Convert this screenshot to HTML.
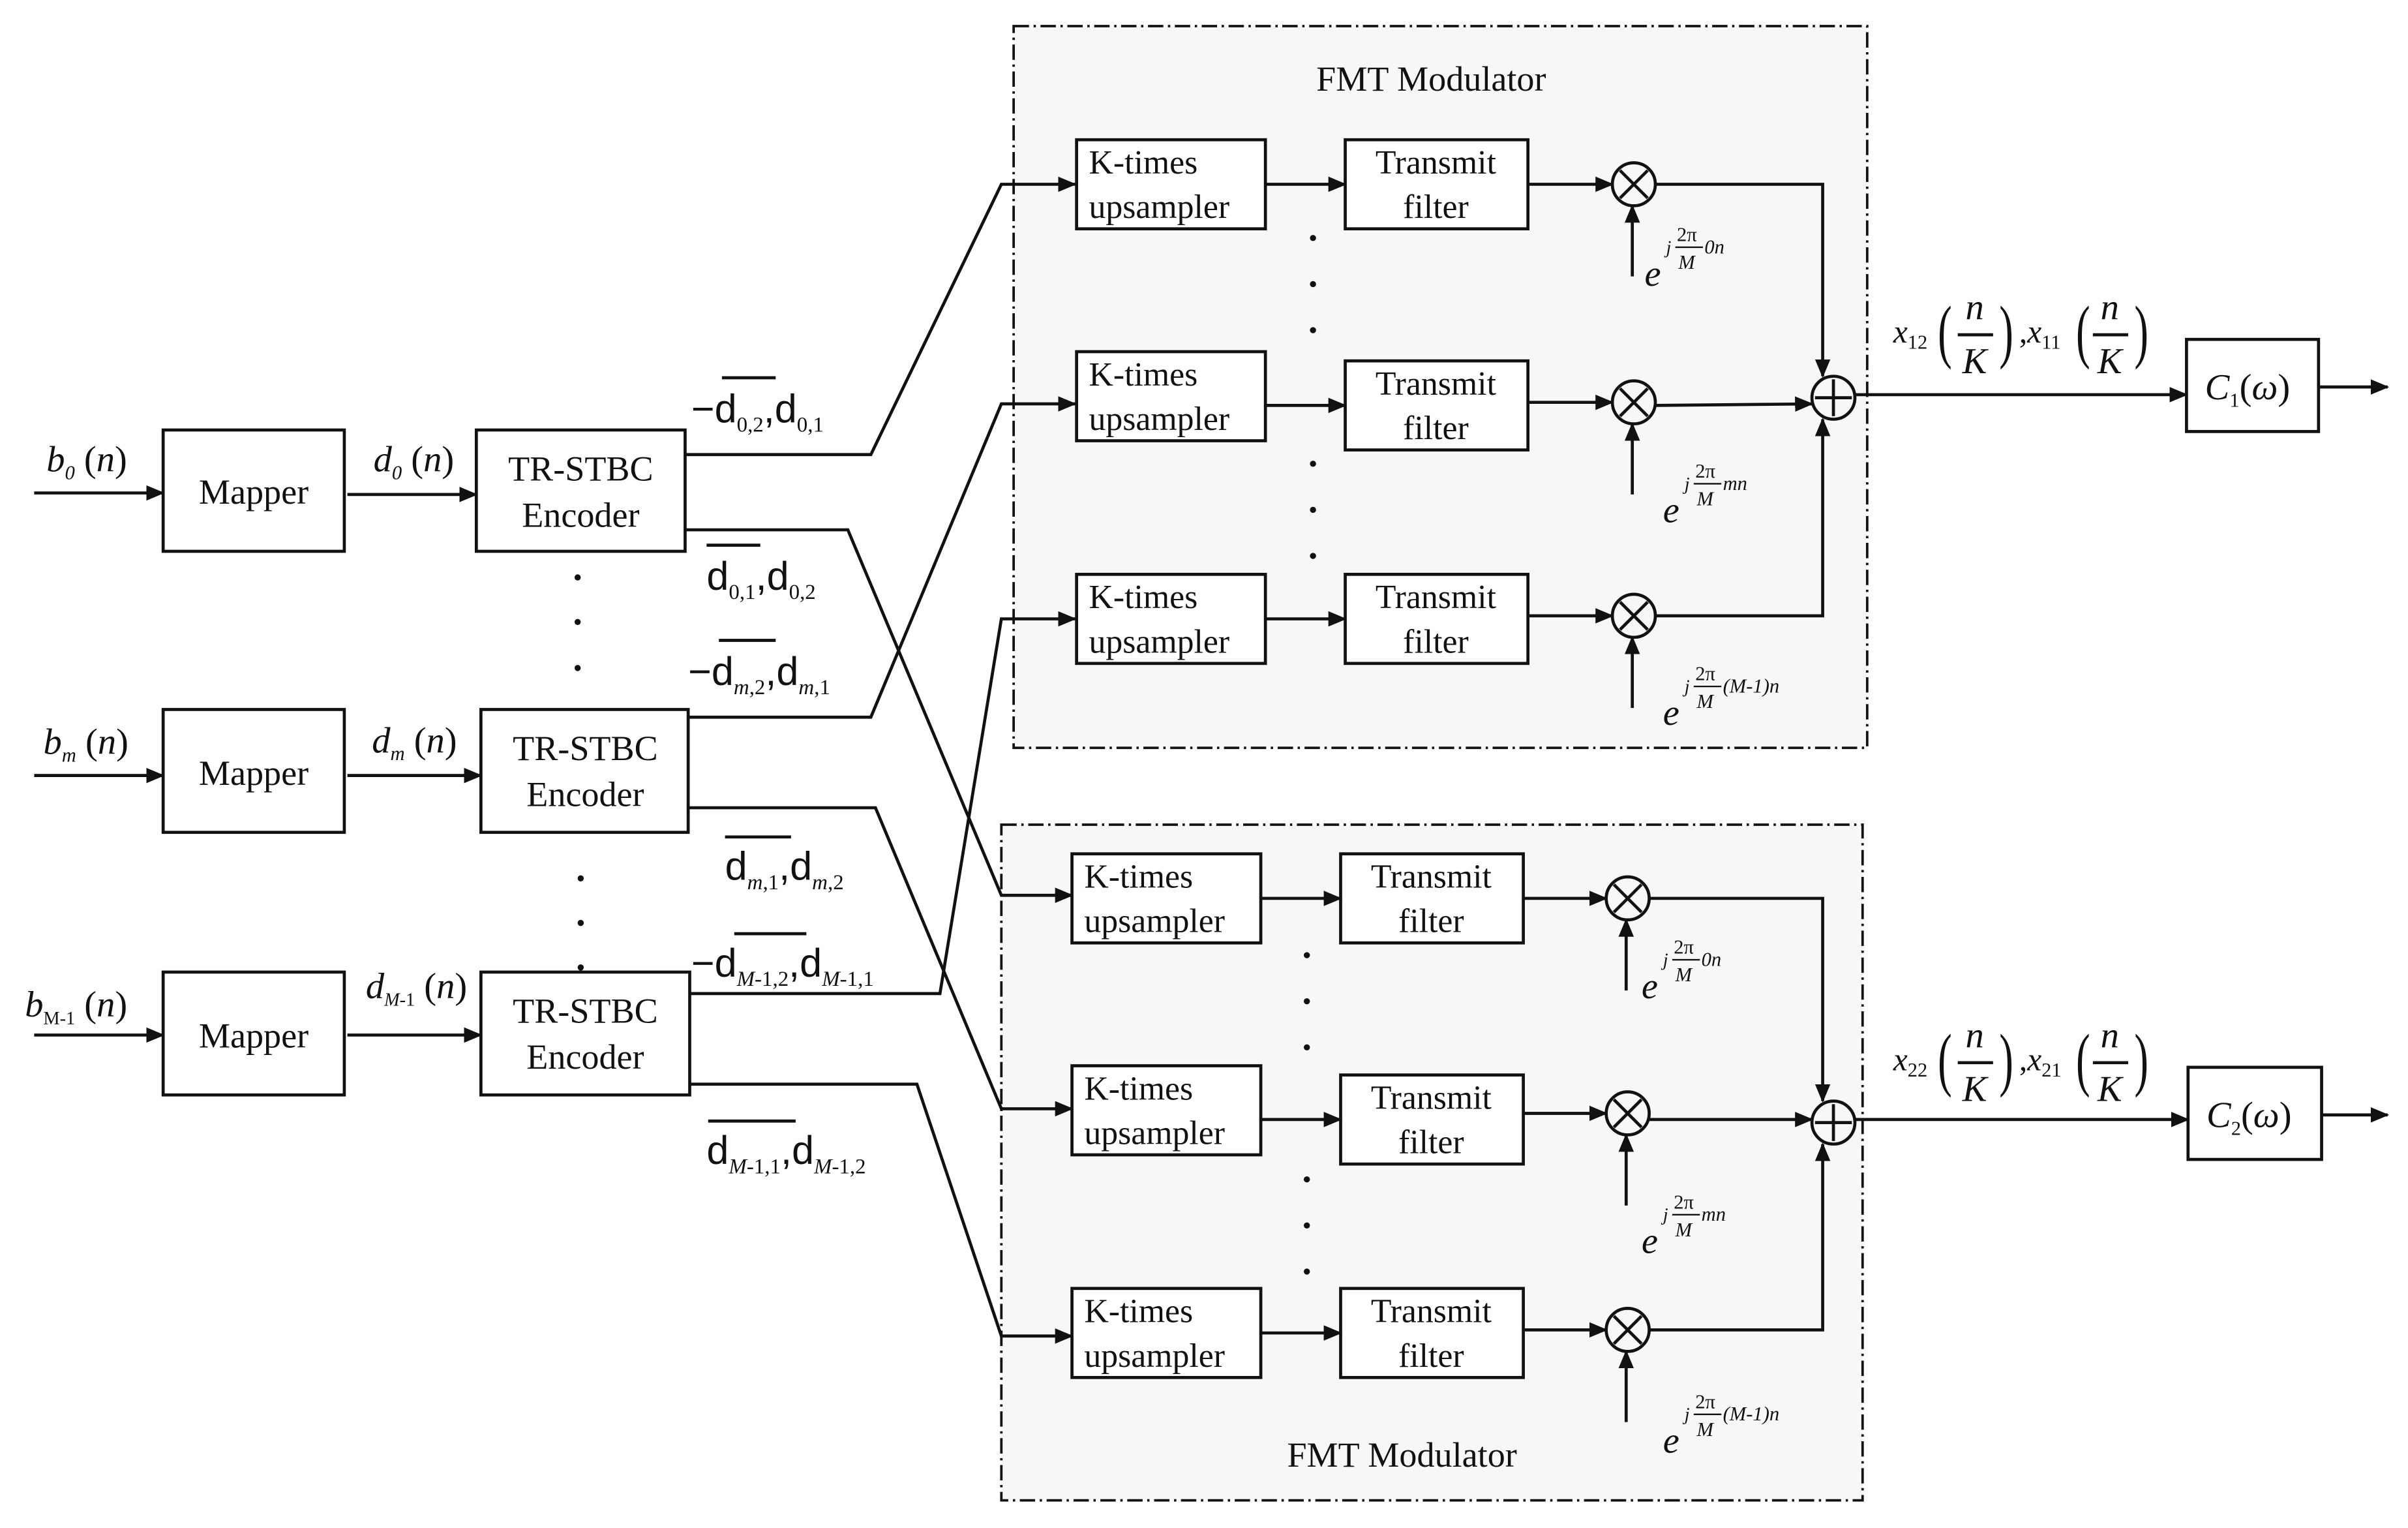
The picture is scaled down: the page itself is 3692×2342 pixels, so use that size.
<!DOCTYPE html>
<html><head><meta charset="utf-8"><style>
html,body{margin:0;padding:0;background:#fff}
svg{display:block}
text{font-family:"Liberation Serif",serif;fill:#111}
.it{font-style:italic}
</style></head><body>
<svg width="3692" height="2342" viewBox="0 0 1568 995" xmlns="http://www.w3.org/2000/svg">
<defs>
<marker id="a" markerWidth="12" markerHeight="10" refX="11" refY="5" orient="auto" markerUnits="userSpaceOnUse"><path d="M0,0 L12,5 L0,10 Z" fill="#111"/></marker>
</defs>
<g stroke="#111" stroke-width="2" fill="none">
<rect x="660" y="17" width="556" height="470" fill="#f7f7f7" stroke-width="1.6" stroke-dasharray="10,3,1.5,3"/>
<rect x="652" y="537" width="561" height="440" fill="#f7f7f7" stroke-width="1.6" stroke-dasharray="10,3,1.5,3"/>
<rect x="106" y="280" width="118" height="79" fill="#fff"/>
<rect x="106" y="462" width="118" height="80" fill="#fff"/>
<rect x="106" y="633" width="118" height="80" fill="#fff"/>
<rect x="310" y="280" width="136" height="79" fill="#fff"/>
<rect x="313" y="462" width="135" height="80" fill="#fff"/>
<rect x="313" y="633" width="136" height="80" fill="#fff"/>
<line x1="22" y1="321" x2="106" y2="321" marker-end="url(#a)"/>
<line x1="22" y1="505" x2="106" y2="505" marker-end="url(#a)"/>
<line x1="22" y1="674" x2="106" y2="674" marker-end="url(#a)"/>
<line x1="226" y1="322" x2="310" y2="322" marker-end="url(#a)"/>
<line x1="226" y1="505" x2="313" y2="505" marker-end="url(#a)"/>
<line x1="226" y1="674" x2="313" y2="674" marker-end="url(#a)"/>
<polyline points="446,296 567,296 652,120 700,120" marker-end="url(#a)"/>
<polyline points="446,345 552,345 652,583 698,583" marker-end="url(#a)"/>
<polyline points="448,467 567,467 652,263 700,263" marker-end="url(#a)"/>
<polyline points="448,526 570,526 652,722 698,722" marker-end="url(#a)"/>
<polyline points="449,647 612,647 652,403 700,403" marker-end="url(#a)"/>
<polyline points="449,706 597,706 652,870 698,870" marker-end="url(#a)"/>
<rect x="701" y="91" width="123" height="58" fill="#fff"/>
<rect x="701" y="229" width="123" height="58" fill="#fff"/>
<rect x="701" y="374" width="123" height="58" fill="#fff"/>
<rect x="876" y="91" width="119" height="58" fill="#fff"/>
<rect x="876" y="235" width="119" height="58" fill="#fff"/>
<rect x="876" y="374" width="119" height="58" fill="#fff"/>
<line x1="824" y1="120" x2="876" y2="120" marker-end="url(#a)"/>
<line x1="824" y1="264" x2="876" y2="264" marker-end="url(#a)"/>
<line x1="824" y1="403" x2="876" y2="403" marker-end="url(#a)"/>
<line x1="995" y1="120" x2="1050" y2="120" marker-end="url(#a)"/>
<line x1="995" y1="262" x2="1050" y2="262" marker-end="url(#a)"/>
<line x1="995" y1="401" x2="1050" y2="401" marker-end="url(#a)"/>
<circle cx="1064" cy="120" r="14"/><circle cx="1064" cy="262" r="14"/><circle cx="1064" cy="401" r="14"/>
<path d="M1055,111 L1073,129 M1073,111 L1055,129 M1055,253 L1073,271 M1073,253 L1055,271 M1055,392 L1073,410 M1073,392 L1055,410"/>
<line x1="1063" y1="180" x2="1063" y2="134" marker-end="url(#a)"/>
<line x1="1063" y1="322" x2="1063" y2="276" marker-end="url(#a)"/>
<line x1="1063" y1="461" x2="1063" y2="415" marker-end="url(#a)"/>
<polyline points="1078,120 1187,120 1187,245" marker-end="url(#a)"/>
<line x1="1078" y1="264" x2="1180" y2="263" marker-end="url(#a)"/>
<polyline points="1078,401 1187,401 1187,273" marker-end="url(#a)"/>
<circle cx="1194" cy="259" r="14"/>
<path d="M1182,259 L1206,259 M1194,247 L1194,271"/>
<line x1="1208" y1="257" x2="1424" y2="257" marker-end="url(#a)"/>
<rect x="1424" y="221" width="86" height="60" fill="#fff"/>
<line x1="1510" y1="252" x2="1555" y2="252" marker-end="url(#a)"/>
<rect x="698" y="556" width="123" height="58" fill="#fff"/>
<rect x="698" y="694" width="123" height="58" fill="#fff"/>
<rect x="698" y="839" width="123" height="58" fill="#fff"/>
<rect x="873" y="556" width="119" height="58" fill="#fff"/>
<rect x="873" y="700" width="119" height="58" fill="#fff"/>
<rect x="873" y="839" width="119" height="58" fill="#fff"/>
<line x1="821" y1="585" x2="873" y2="585" marker-end="url(#a)"/>
<line x1="821" y1="729" x2="873" y2="729" marker-end="url(#a)"/>
<line x1="821" y1="868" x2="873" y2="868" marker-end="url(#a)"/>
<line x1="992" y1="585" x2="1046" y2="585" marker-end="url(#a)"/>
<line x1="992" y1="725" x2="1046" y2="725" marker-end="url(#a)"/>
<line x1="992" y1="866" x2="1046" y2="866" marker-end="url(#a)"/>
<circle cx="1060" cy="585" r="14"/><circle cx="1060" cy="725" r="14"/><circle cx="1060" cy="866" r="14"/>
<path d="M1051,576 L1069,594 M1069,576 L1051,594 M1051,716 L1069,734 M1069,716 L1051,734 M1051,857 L1069,875 M1069,857 L1051,875"/>
<line x1="1059" y1="645" x2="1059" y2="599" marker-end="url(#a)"/>
<line x1="1059" y1="785" x2="1059" y2="739" marker-end="url(#a)"/>
<line x1="1059" y1="926" x2="1059" y2="880" marker-end="url(#a)"/>
<polyline points="1074,585 1187,585 1187,717" marker-end="url(#a)"/>
<line x1="1074" y1="729" x2="1180" y2="729" marker-end="url(#a)"/>
<polyline points="1074,866 1187,866 1187,745" marker-end="url(#a)"/>
<circle cx="1194" cy="731" r="14"/>
<path d="M1182,731 L1206,731 M1194,719 L1194,743"/>
<line x1="1208" y1="729" x2="1425" y2="729" marker-end="url(#a)"/>
<rect x="1425" y="695" width="87" height="60" fill="#fff"/>
<line x1="1512" y1="726" x2="1555" y2="726" marker-end="url(#a)"/>
<path d="M470,246 L505,246 M460,355 L495,355 M468,417 L505,417 M472,545 L515,545 M478,608 L525,608 M461,730 L518,730"/>
</g>
<g fill="#111">
<circle cx="376" cy="376" r="2"/><circle cx="376" cy="405" r="2"/><circle cx="376" cy="435" r="2"/>
<circle cx="378" cy="572" r="2"/><circle cx="378" cy="601" r="2"/><circle cx="378" cy="630" r="2"/>
<circle cx="855" cy="155" r="2"/><circle cx="855" cy="185" r="2"/><circle cx="855" cy="215" r="2"/>
<circle cx="855" cy="302" r="2"/><circle cx="855" cy="332" r="2"/><circle cx="855" cy="362" r="2"/>
<circle cx="851" cy="622" r="2"/><circle cx="851" cy="652" r="2"/><circle cx="851" cy="682" r="2"/>
<circle cx="851" cy="768" r="2"/><circle cx="851" cy="798" r="2"/><circle cx="851" cy="828" r="2"/>
</g>
<g font-size="23" text-anchor="middle">
<text x="165" y="328">Mapper</text><text x="165" y="511">Mapper</text><text x="165" y="682">Mapper</text>
<text x="378" y="313">TR-STBC</text><text x="378" y="343">Encoder</text>
<text x="381" y="495">TR-STBC</text><text x="381" y="525">Encoder</text>
<text x="381" y="666">TR-STBC</text><text x="381" y="696">Encoder</text>
<text x="932" y="59">FMT Modulator</text><text x="913" y="955">FMT Modulator</text>
</g>
<g font-size="22">
<text x="709" y="113">K-times</text><text x="709" y="142">upsampler</text>
<text x="709" y="251">K-times</text><text x="709" y="280">upsampler</text>
<text x="709" y="396">K-times</text><text x="709" y="425">upsampler</text>
<text x="706" y="578">K-times</text><text x="706" y="607">upsampler</text>
<text x="706" y="716">K-times</text><text x="706" y="745">upsampler</text>
<text x="706" y="861">K-times</text><text x="706" y="890">upsampler</text>
<text x="935" y="113" text-anchor="middle">Transmit</text><text x="935" y="142" text-anchor="middle">filter</text>
<text x="935" y="257" text-anchor="middle">Transmit</text><text x="935" y="286" text-anchor="middle">filter</text>
<text x="935" y="396" text-anchor="middle">Transmit</text><text x="935" y="425" text-anchor="middle">filter</text>
<text x="932" y="578" text-anchor="middle">Transmit</text><text x="932" y="607" text-anchor="middle">filter</text>
<text x="932" y="722" text-anchor="middle">Transmit</text><text x="932" y="751" text-anchor="middle">filter</text>
<text x="932" y="861" text-anchor="middle">Transmit</text><text x="932" y="890" text-anchor="middle">filter</text>
</g>
<g font-size="24">
<text x="30" y="307" class="it">b<tspan font-size="13" dy="5">0</tspan><tspan dy="-5" font-style="normal"> (</tspan>n<tspan font-style="normal">)</tspan></text>
<text x="28" y="491" class="it">b<tspan font-size="13" dy="5">m</tspan><tspan dy="-5" font-style="normal"> (</tspan>n<tspan font-style="normal">)</tspan></text>
<text x="16" y="662" class="it">b<tspan font-size="12" dy="5" font-style="normal">M-1</tspan><tspan dy="-5" font-style="normal"> (</tspan>n<tspan font-style="normal">)</tspan></text>
<text x="243" y="307" class="it">d<tspan font-size="13" dy="5">0</tspan><tspan dy="-5" font-style="normal"> (</tspan>n<tspan font-style="normal">)</tspan></text>
<text x="242" y="490" class="it">d<tspan font-size="13" dy="5">m</tspan><tspan dy="-5" font-style="normal"> (</tspan>n<tspan font-style="normal">)</tspan></text>
<text x="238" y="650" class="it">d<tspan font-size="12" dy="5">M</tspan><tspan font-size="12" font-style="normal">-1</tspan><tspan dy="-5" font-style="normal"> (</tspan>n<tspan font-style="normal">)</tspan></text>
</g>
<g font-size="26">
<text x="450" y="275" style="font-family:'Liberation Sans',sans-serif">−d<tspan font-size="14" dy="6" style="font-family:'Liberation Serif'">0,2</tspan><tspan dy="-6">,d</tspan><tspan font-size="14" dy="6" style="font-family:'Liberation Serif'">0,1</tspan></text>
<text x="460" y="384" style="font-family:'Liberation Sans',sans-serif">d<tspan font-size="14" dy="6" style="font-family:'Liberation Serif'">0,1</tspan><tspan dy="-6">,d</tspan><tspan font-size="14" dy="6" style="font-family:'Liberation Serif'">0,2</tspan></text>
<text x="448" y="446" style="font-family:'Liberation Sans',sans-serif">−d<tspan font-size="14" dy="6" style="font-family:'Liberation Serif';font-style:italic">m</tspan><tspan font-size="14" style="font-family:'Liberation Serif'">,2</tspan><tspan dy="-6">,d</tspan><tspan font-size="14" dy="6" style="font-family:'Liberation Serif';font-style:italic">m</tspan><tspan font-size="14" style="font-family:'Liberation Serif'">,1</tspan></text>
<text x="472" y="573" style="font-family:'Liberation Sans',sans-serif">d<tspan font-size="14" dy="6" style="font-family:'Liberation Serif';font-style:italic">m</tspan><tspan font-size="14" style="font-family:'Liberation Serif'">,1</tspan><tspan dy="-6">,d</tspan><tspan font-size="14" dy="6" style="font-family:'Liberation Serif';font-style:italic">m</tspan><tspan font-size="14" style="font-family:'Liberation Serif'">,2</tspan></text>
<text x="450" y="636" style="font-family:'Liberation Sans',sans-serif">−d<tspan font-size="14" dy="6" style="font-family:'Liberation Serif';font-style:italic">M</tspan><tspan font-size="14" style="font-family:'Liberation Serif'">-1,2</tspan><tspan dy="-6">,d</tspan><tspan font-size="14" dy="6" style="font-family:'Liberation Serif';font-style:italic">M</tspan><tspan font-size="14" style="font-family:'Liberation Serif'">-1,1</tspan></text>
<text x="460" y="758" style="font-family:'Liberation Sans',sans-serif">d<tspan font-size="14" dy="6" style="font-family:'Liberation Serif';font-style:italic">M</tspan><tspan font-size="14" style="font-family:'Liberation Serif'">-1,1</tspan><tspan dy="-6">,d</tspan><tspan font-size="14" dy="6" style="font-family:'Liberation Serif';font-style:italic">M</tspan><tspan font-size="14" style="font-family:'Liberation Serif'">-1,2</tspan></text>
</g>
<g class="it">
<text x="1071" y="186" font-size="24">e</text><text x="1085" y="165" font-size="12">j</text><text x="1092" y="157" font-size="13" font-style="normal">2π</text><line x1="1091" y1="161" x2="1109" y2="161" stroke="#111"/><text x="1093" y="175" font-size="13">M</text><text x="1110" y="165" font-size="13">0n</text>
<text x="1083" y="340" font-size="24">e</text><text x="1097" y="319" font-size="12">j</text><text x="1104" y="311" font-size="13" font-style="normal">2π</text><line x1="1103" y1="315" x2="1121" y2="315" stroke="#111"/><text x="1105" y="329" font-size="13">M</text><text x="1122" y="319" font-size="13">mn</text>
<text x="1083" y="472" font-size="24">e</text><text x="1097" y="451" font-size="12">j</text><text x="1104" y="443" font-size="13" font-style="normal">2π</text><line x1="1103" y1="447" x2="1121" y2="447" stroke="#111"/><text x="1105" y="461" font-size="13">M</text><text x="1122" y="451" font-size="13">(M-1)n</text>
<text x="1069" y="650" font-size="24">e</text><text x="1083" y="629" font-size="12">j</text><text x="1090" y="621" font-size="13" font-style="normal">2π</text><line x1="1089" y1="625" x2="1107" y2="625" stroke="#111"/><text x="1091" y="639" font-size="13">M</text><text x="1108" y="629" font-size="13">0n</text>
<text x="1069" y="816" font-size="24">e</text><text x="1083" y="795" font-size="12">j</text><text x="1090" y="787" font-size="13" font-style="normal">2π</text><line x1="1089" y1="791" x2="1107" y2="791" stroke="#111"/><text x="1091" y="805" font-size="13">M</text><text x="1108" y="795" font-size="13">mn</text>
<text x="1083" y="946" font-size="24">e</text><text x="1097" y="925" font-size="12">j</text><text x="1104" y="917" font-size="13" font-style="normal">2π</text><line x1="1103" y1="921" x2="1121" y2="921" stroke="#111"/><text x="1105" y="935" font-size="13">M</text><text x="1122" y="925" font-size="13">(M-1)n</text>
</g>
<g class="it">
<text x="1233" y="223" font-size="21">x<tspan font-size="13" dy="4" font-style="normal">12</tspan></text>
<text x="1262" y="231" font-size="46" font-style="normal" transform="translate(1262,0) scale(0.6,1) translate(-1262,0)">(</text>
<text x="1280" y="208" font-size="24">n</text><line x1="1275" y1="218" x2="1298" y2="218" stroke="#111" stroke-width="2"/><text x="1278" y="243" font-size="24">K</text>
<text x="1302" y="231" font-size="46" font-style="normal" transform="translate(1302,0) scale(0.6,1) translate(-1302,0)">)</text>
<text x="1315" y="223" font-size="21"><tspan font-style="normal">,</tspan>x<tspan font-size="13" dy="4" font-style="normal">11</tspan></text>
<text x="1352" y="231" font-size="46" font-style="normal" transform="translate(1352,0) scale(0.6,1) translate(-1352,0)">(</text>
<text x="1368" y="208" font-size="24">n</text><line x1="1363" y1="218" x2="1386" y2="218" stroke="#111" stroke-width="2"/><text x="1366" y="243" font-size="24">K</text>
<text x="1390" y="231" font-size="46" font-style="normal" transform="translate(1390,0) scale(0.6,1) translate(-1390,0)">)</text>
<text x="1233" y="697" font-size="21">x<tspan font-size="13" dy="4" font-style="normal">22</tspan></text>
<text x="1262" y="705" font-size="46" font-style="normal" transform="translate(1262,0) scale(0.6,1) translate(-1262,0)">(</text>
<text x="1280" y="682" font-size="24">n</text><line x1="1275" y1="692" x2="1298" y2="692" stroke="#111" stroke-width="2"/><text x="1278" y="717" font-size="24">K</text>
<text x="1302" y="705" font-size="46" font-style="normal" transform="translate(1302,0) scale(0.6,1) translate(-1302,0)">)</text>
<text x="1315" y="697" font-size="21"><tspan font-style="normal">,</tspan>x<tspan font-size="13" dy="4" font-style="normal">21</tspan></text>
<text x="1352" y="705" font-size="46" font-style="normal" transform="translate(1352,0) scale(0.6,1) translate(-1352,0)">(</text>
<text x="1368" y="682" font-size="24">n</text><line x1="1363" y1="692" x2="1386" y2="692" stroke="#111" stroke-width="2"/><text x="1366" y="717" font-size="24">K</text>
<text x="1390" y="705" font-size="46" font-style="normal" transform="translate(1390,0) scale(0.6,1) translate(-1390,0)">)</text>
<text x="1436" y="260" font-size="24">C<tspan font-size="13" dy="5" font-style="normal">1</tspan><tspan dy="-5" font-style="normal">(</tspan>ω<tspan font-style="normal">)</tspan></text>
<text x="1437" y="734" font-size="24">C<tspan font-size="13" dy="5" font-style="normal">2</tspan><tspan dy="-5" font-style="normal">(</tspan>ω<tspan font-style="normal">)</tspan></text>
</g>
</svg>
</body></html>
